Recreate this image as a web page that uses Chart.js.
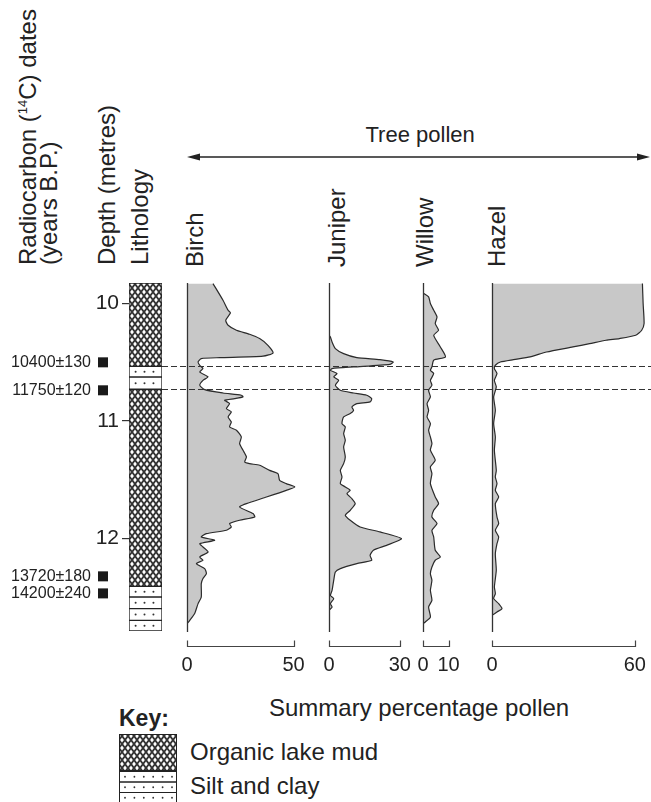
<!DOCTYPE html>
<html><head><meta charset="utf-8">
<script src="https://cdn.jsdelivr.net/npm/chart.js@4.4.0/dist/chart.umd.min.js"></script>
<style>
html,body{margin:0;padding:0;background:#fff;}
#page{position:relative;width:651px;height:802px;overflow:hidden;font-family:'Liberation Sans',Arial,sans-serif;color:#222;}
canvas{position:absolute;}
.vt{position:absolute;transform-origin:0 0;transform:rotate(-90deg);white-space:nowrap;line-height:1;font-size:24px;}
.t{position:absolute;white-space:nowrap;line-height:1;}
sup{font-size:13px;line-height:0;vertical-align:9px;}
</style></head>
<body><div id="page">
<div class="vt" style="left:15.7px;top:265px;">Radiocarbon (<sup>14</sup>C) dates</div>
<div class="vt" style="left:36.7px;top:265px;">(years B.P.)</div>
<div class="vt" style="left:94.7px;top:265px;">Depth (metres)</div>
<div class="vt" style="left:127.7px;top:265px;">Lithology</div>
<div class="vt" style="left:183px;top:266.7px;">Birch</div>
<div class="vt" style="left:324.7px;top:266.7px;">Juniper</div>
<div class="vt" style="left:412.7px;top:266.7px;">Willow</div>
<div class="vt" style="left:484.7px;top:266.7px;">Hazel</div>
<div class="t" id="treeT" style="top:124px;font-size:22px;">Tree pollen</div>
<svg style="position:absolute;left:0;top:0" width="651" height="200">
  <line x1="195" y1="157" x2="643" y2="157" stroke="#222" stroke-width="1.5"/>
  <polygon points="187,157 200,153.5 200,160.5" fill="#222"/>
  <polygon points="650,157 637,153.5 637,160.5" fill="#222"/>
</svg>
<div class="t" id="sumT" style="top:695.7px;font-size:24px;">Summary percentage pollen</div>
<div class="t" style="left:119px;top:706.5px;font-size:23px;font-weight:bold;">Key:</div>
<div class="t" style="left:190px;top:739.7px;font-size:24px;">Organic lake mud</div>
<div class="t" style="left:190px;top:773.7px;font-size:24px;">Silt and clay</div>
<canvas id="cKey" width="80" height="74" style="left:110px;top:728px;"></canvas>
<canvas id="cBirch"></canvas>
<canvas id="cJuniper"></canvas>
<canvas id="cWillow"></canvas>
<canvas id="cHazel"></canvas>
<canvas id="cDepth" width="651" height="700" style="left:0;top:0;z-index:5;"></canvas>
</div>
<script>
// ---------------- DATA ----------------
const depthMin = 9.825, depthMax = 12.786;
const depthTicks = [10, 11, 12];

const dateLabels = ['10400\u00b1130', '11750\u00b1120', '13720\u00b1180', '14200\u00b1240'];
const dateDepths = [10.50, 10.738, 12.321, 12.466];

const boundaryDepths = [10.534, 10.729];

const lithoTop  = [9.825, 10.534, 10.625, 10.729, 12.406, 12.497, 12.596, 12.695];
const lithoBase = [10.534, 10.625, 10.729, 12.406, 12.497, 12.596, 12.695, 12.786];
const lithoType = ['mud', 'silt', 'silt', 'mud', 'silt', 'silt', 'silt', 'silt'];

const birchDepth = [9.830, 9.972, 10.057, 10.080, 10.142, 10.185, 10.227, 10.261, 10.298, 10.355, 10.420, 10.448, 10.460, 10.468, 10.497, 10.525, 10.553, 10.582, 10.624, 10.653, 10.695, 10.732, 10.761, 10.780, 10.794, 10.809, 10.823, 10.851, 10.894, 10.922, 10.965, 11.007, 11.050, 11.078, 11.135, 11.192, 11.248, 11.305, 11.348, 11.362, 11.376, 11.419, 11.447, 11.504, 11.532, 11.560, 11.589, 11.646, 11.702, 11.731, 11.787, 11.816, 11.844, 11.872, 11.901, 11.929, 11.958, 11.986, 12.014, 12.043, 12.071, 12.114, 12.156, 12.184, 12.213, 12.255, 12.298, 12.340, 12.383, 12.497, 12.553, 12.638, 12.695, 12.724];
const birchPct = [12.2, 16.9, 19.3, 20.4, 18.2, 19.3, 23.2, 29.4, 34.1, 38.0, 40.4, 35.7, 15.4, 6.7, 5.2, 6.0, 7.5, 6.0, 9.9, 7.5, 6.0, 8.3, 16.9, 25.5, 26.3, 22.4, 17.7, 20.0, 18.5, 20.8, 19.3, 20.8, 20.0, 23.2, 25.5, 24.7, 26.3, 27.9, 27.1, 29.4, 34.1, 38.8, 42.7, 43.5, 46.6, 50.6, 46.6, 37.3, 27.9, 24.7, 31.0, 31.8, 24.7, 20.0, 20.8, 18.5, 9.1, 6.7, 13.0, 6.0, 7.5, 9.9, 6.0, 7.5, 4.4, 8.3, 9.1, 7.5, 6.7, 6.7, 5.2, 3.6, 1.3, 0];

const juniperDepth = [10.270, 10.284, 10.327, 10.383, 10.426, 10.460, 10.477, 10.497, 10.517, 10.539, 10.553, 10.568, 10.596, 10.624, 10.653, 10.695, 10.738, 10.761, 10.780, 10.809, 10.837, 10.851, 10.880, 10.908, 10.936, 10.965, 11.021, 11.050, 11.106, 11.163, 11.220, 11.305, 11.362, 11.419, 11.475, 11.532, 11.560, 11.589, 11.617, 11.660, 11.702, 11.759, 11.801, 11.844, 11.901, 11.943, 12.000, 12.057, 12.099, 12.142, 12.184, 12.213, 12.255, 12.284, 12.355, 12.440, 12.483, 12.511, 12.553, 12.582, 12.610];
const juniperPct = [0, 0.6, 1.3, 2.7, 6.2, 11.8, 21.6, 27.2, 25.8, 10.4, 1.3, 0.6, 3.4, 2.0, 4.1, 2.7, 4.8, 10.4, 16.0, 18.1, 17.4, 11.8, 9.7, 10.4, 9.0, 6.2, 5.5, 6.9, 6.2, 6.9, 6.2, 6.9, 6.2, 4.8, 5.5, 4.8, 6.9, 9.0, 7.6, 9.7, 11.1, 9.0, 6.9, 9.0, 13.2, 21.6, 30.7, 24.4, 18.8, 17.4, 18.1, 11.8, 4.8, 2.7, 2.0, 1.3, 0.6, 2.0, 0.6, 1.3, 0];

const willowDepth = [9.915, 9.943, 10.000, 10.057, 10.114, 10.170, 10.227, 10.270, 10.369, 10.454, 10.482, 10.539, 10.568, 10.596, 10.653, 10.695, 10.738, 10.794, 10.851, 10.908, 10.965, 11.021, 11.078, 11.135, 11.192, 11.248, 11.333, 11.390, 11.447, 11.532, 11.645, 11.702, 11.759, 11.816, 11.872, 11.929, 11.986, 12.099, 12.156, 12.184, 12.241, 12.298, 12.355, 12.440, 12.525, 12.582, 12.667, 12.709, 12.724];
const willowPct = [0.3, 2.2, 2.9, 4.2, 5.5, 4.8, 6.1, 4.2, 6.8, 8.8, 4.2, 3.5, 2.9, 4.2, 2.9, 3.5, 2.2, 2.9, 1.6, 2.2, 1.6, 2.9, 2.2, 2.9, 3.5, 2.9, 4.8, 2.9, 3.5, 2.9, 4.8, 6.1, 4.2, 3.5, 5.5, 3.5, 4.2, 4.8, 6.8, 4.8, 3.5, 2.9, 3.5, 2.9, 3.5, 2.2, 2.9, 0.9, 0];

const hazelDepth = [9.830, 10.000, 10.170, 10.227, 10.270, 10.298, 10.312, 10.341, 10.369, 10.412, 10.454, 10.477, 10.497, 10.525, 10.553, 10.596, 10.653, 10.709, 10.794, 10.908, 11.021, 11.135, 11.248, 11.419, 11.475, 11.532, 11.589, 11.646, 11.702, 11.816, 11.872, 11.929, 11.986, 12.043, 12.128, 12.270, 12.411, 12.468, 12.511, 12.553, 12.596, 12.624, 12.653];
const hazelPct = [63.2, 63.5, 63.9, 62.9, 60.4, 53.5, 47.9, 41.0, 34.0, 22.9, 16.0, 9.0, 3.5, 1.4, 1.0, 2.1, 1.0, 1.8, 0.7, 1.4, 0.7, 1.4, 1.0, 1.8, 1.4, 2.1, 1.4, 2.8, 1.4, 2.1, 2.8, 1.4, 2.8, 2.1, 1.4, 1.8, 1.0, 1.4, 0.7, 2.8, 4.2, 2.1, 0];

const birchTicks = [0, 50];
const juniperTicks = [0, 30];
const willowTicks = [0, 10];
const hazelTicks = [0, 60];

// ---------------- STYLE / LAYOUT ----------------
const FONT = "'Liberation Sans', Arial, sans-serif";
const INK = '#222';
Chart.defaults.font.family = FONT;
Chart.defaults.color = INK;

const AREA_TOP = 283, AREA_BOTTOM = 631, CANVAS_H = 700;

function makeMudPattern(ctx) {
  const c = document.createElement('canvas');
  c.width = 6; c.height = 8;
  const g = c.getContext('2d');
  g.fillStyle = '#fff'; g.fillRect(0, 0, 6, 8);
  g.strokeStyle = '#333'; g.lineWidth = 1.9;
  g.beginPath();
  g.moveTo(0, 0); g.lineTo(6, 8);
  g.moveTo(6, 0); g.lineTo(0, 8);
  g.stroke();
  return ctx.createPattern(c, 'repeat');
}

// Key swatches
(function () {
  const cv = document.getElementById('cKey');
  const g = cv.getContext('2d');
  g.fillStyle = makeMudPattern(g);
  g.fillRect(9, 6, 58, 37);
  g.strokeStyle = INK; g.lineWidth = 1;
  g.strokeRect(9.5, 6.5, 57, 36);
  const rows = [43, 53.5, 64, 74.5];
  for (let r = 0; r < 3; r++) {
    g.strokeRect(9.5, rows[r] + 0.5, 57, rows[r + 1] - rows[r]);
    g.fillStyle = '#333';
    const cy = (rows[r] + rows[r + 1]) / 2 + 0.5;
    for (let k = 0; k < 6; k++) {
      g.beginPath(); g.arc(15 + k * 9.4, cy, 0.9, 0, Math.PI * 2); g.fill();
    }
  }
})();

// Depth / lithology chart
const depthCanvas = document.getElementById('cDepth');
const mudPat = makeMudPattern(depthCanvas.getContext('2d'));

const lithoDecor = {
  id: 'lithoDecor',
  afterDatasetsDraw(chart) {
    const ctx = chart.ctx, ys = chart.scales.y, a = chart.chartArea;
    ctx.save();
    // silt dots
    ctx.fillStyle = '#333';
    lithoType.forEach((t, i) => {
      if (t !== 'silt') return;
      const bar = chart.getDatasetMeta(i).data[0];
      const p = bar.getProps(['x', 'y', 'base', 'width'], true);
      const cy = (p.y + p.base) / 2;
      const left = p.x - p.width / 2;
      [0.2, 0.47, 0.74].forEach(f => {
        ctx.beginPath(); ctx.arc(left + f * p.width, cy, 1.0, 0, Math.PI * 2); ctx.fill();
      });
    });
    // dashed boundary lines
    ctx.strokeStyle = '#333'; ctx.lineWidth = 1; ctx.setLineDash([6, 3]);
    boundaryDepths.forEach(d => {
      const y = Math.round(ys.getPixelForValue(d)) + 0.5;
      ctx.beginPath(); ctx.moveTo(a.right, y); ctx.lineTo(chart.width, y); ctx.stroke();
    });
    ctx.setLineDash([]);
    // radiocarbon dates
    ctx.font = '16px ' + FONT; ctx.textAlign = 'right'; ctx.textBaseline = 'middle';
    dateDepths.forEach((d, i) => {
      const y = ys.getPixelForValue(d);
      ctx.fillStyle = '#1a1a1a';
      ctx.fillRect(a.left - 31, y - 5, 10, 10);
      ctx.fillStyle = INK;
      ctx.fillText(dateLabels[i], a.left - 38, y + 0.5);
    });
    ctx.restore();
  }
};

new Chart(depthCanvas, {
  type: 'bar',
  data: {
    labels: ['Lithology'],
    datasets: lithoTop.map((t, i) => ({
      data: [[t, lithoBase[i]]],
      backgroundColor: lithoType[i] === 'mud' ? mudPat : '#fff',
      borderColor: INK, borderWidth: 1, borderSkipped: false,
      grouped: false, barPercentage: 1, categoryPercentage: 1
    }))
  },
  options: {
    responsive: false, animation: false, events: [],
    layout: { padding: { top: AREA_TOP, left: 0, right: 651 - 162, bottom: CANVAS_H - AREA_BOTTOM } },
    plugins: { legend: { display: false }, tooltip: { enabled: false } },
    scales: {
      x: { display: false },
      y: {
        type: 'linear', min: depthMin, max: depthMax, reverse: true, position: 'left',
        afterBuildTicks: s => { s.ticks = depthTicks.map(v => ({ value: v })); },
        afterFit: s => { s.width = 129; },
        grid: { drawOnChartArea: false, tickLength: 7, color: '#333', lineWidth: 1.2 },
        border: { display: false },
        ticks: { font: { size: 21 }, color: INK, padding: 3 }
      }
    }
  },
  plugins: [lithoDecor]
});

// Pollen panels
const panelDecor = {
  id: 'panelDecor',
  afterDatasetsDraw(chart) {
    const ctx = chart.ctx, xs = chart.scales.x, a = chart.chartArea;
    const x0 = Math.round(xs.getPixelForValue(0)) + 0.5;
    const ticks = xs.ticks.map(t => t.value);
    const x1 = Math.round(xs.getPixelForValue(ticks[ticks.length - 1])) + 0.5;
    ctx.save();
    ctx.strokeStyle = '#333'; ctx.lineWidth = 1.3;
    ctx.beginPath(); ctx.moveTo(x0, a.top); ctx.lineTo(x0, a.bottom + 1); ctx.stroke();
    const yb = a.bottom + 15.5;
    ctx.lineWidth = 1.2; ctx.strokeStyle = '#444';
    ctx.beginPath();
    ctx.moveTo(x0, yb - 6); ctx.lineTo(x0, yb); ctx.lineTo(x1, yb); ctx.lineTo(x1, yb - 6);
    ctx.stroke();
    ctx.restore();
  }
};

function panel(id, depth, pct, ticks, base, pxPerPct, areaW) {
  const cv = document.getElementById(id);
  const padL = 30, padR = 30;
  cv.width = areaW + padL + padR; cv.height = CANVAS_H;
  cv.style.left = (base - padL) + 'px'; cv.style.top = '0px';
  return new Chart(cv, {
    type: 'line',
    data: {
      datasets: [{
        data: depth.map((d, i) => ({ x: pct[i], y: d })),
        fill: 'origin', backgroundColor: '#c8c8c8', borderColor: '#2b2b2b',
        borderWidth: 1.2, pointRadius: 0, tension: 0.2
      }]
    },
    options: {
      indexAxis: 'y', responsive: false, animation: false, events: [],
      layout: { padding: { top: AREA_TOP, left: padL, right: padR, bottom: 0 } },
      plugins: { legend: { display: false }, tooltip: { enabled: false } },
      scales: {
        y: { type: 'linear', min: depthMin, max: depthMax, reverse: true, display: false },
        x: {
          type: 'linear', min: 0, max: areaW / pxPerPct, position: 'bottom',
          afterBuildTicks: s => { s.ticks = ticks.map(v => ({ value: v })); },
          afterFit: s => { s.height = CANVAS_H - AREA_BOTTOM; },
          grid: { display: false, drawTicks: false }, border: { display: false },
          ticks: { font: { size: 20 }, color: INK, padding: 22, maxRotation: 0, autoSkip: false }
        }
      }
    },
    plugins: [panelDecor]
  });
}

panel('cBirch', birchDepth, birchPct, birchTicks, 187.3, 2.13, 134);
panel('cJuniper', juniperDepth, juniperPct, juniperTicks, 328.5, 2.36, 88);
panel('cWillow', willowDepth, willowPct, willowTicks, 422.7, 2.55, 62);
panel('cHazel', hazelDepth, hazelPct, hazelTicks, 491.7, 2.38, 157);

// centre the free texts
function centre(id, cx) { const e = document.getElementById(id); e.style.left = (cx - e.offsetWidth / 2) + 'px'; }
centre('treeT', 420);
centre('sumT', 419);
</script>
</body></html>
